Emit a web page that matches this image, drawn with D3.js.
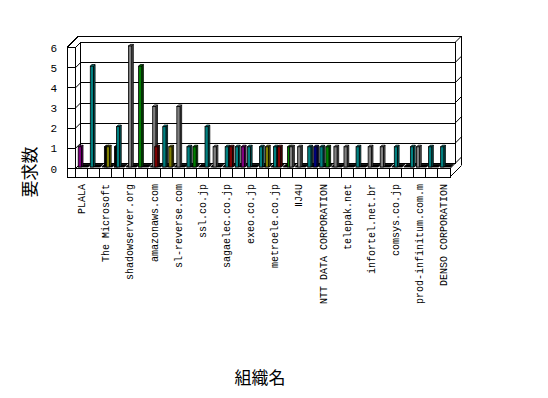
<!DOCTYPE html>
<html>
<head>
<meta charset="utf-8">
<script src="https://cdn.jsdelivr.net/npm/d3@7"></script>
<style>
  body { margin: 0; background: #fff; }
  text { font-family: "Liberation Mono", "DejaVu Sans Mono", monospace; }
</style>
</head>
<body>
<svg id="chart" width="548" height="398"></svg>
<script>
// organisations on the x axis (only every second one is labelled in the chart)
const orgLabels = ["PLALA", "The Microsoft", "shadowserver.org", "amazonaws.com",
  "sl-reverse.com", "ssl.co.jp", "sagaelec.co.jp", "exeo.co.jp", "metroele.co.jp",
  "ⅡJ4U", "NTT DATA CORPORATION", "telepak.net", "infortel.net.br", "comsys.co.jp",
  "prod-infinitum.com.m", "DENSO CORPORATION"];
const nOrgs = 31;
const yTicks = [0, 1, 2, 3, 4, 5, 6];
const seriesIds = [0, 1, 2, 3, 4, 5, 6, 7];
const palette = ["#000000", "#800000", "#008000", "#808000", "#000080", "#800080", "#008080", "#808080"];

// one entry per bar: organisation index, slot inside the cluster, series, request count
const barOrg    = [0, 1, 2, 2, 3, 3, 4, 5, 6, 6, 7, 7, 8, 9, 9, 10, 11, 12, 12, 13, 13, 14, 15, 15, 16, 16, 17, 17, 18, 19, 19, 20, 20, 21, 22, 23, 24, 25, 26, 27, 28, 29, 30];
const barSlot   = [0, 0, 1, 2, 0, 1, 1, 0, 1, 2, 0, 3, 1, 0, 3, 3, 1, 1, 3, 0, 3, 0, 0, 3, 1, 3, 2, 3, 1, 0, 3, 0, 3, 1, 0, 0, 0, 0, 1, 3, 0, 0, 0];
const barSeries = [5, 6, 0, 3, 0, 6, 7, 2, 7, 1, 6, 3, 7, 6, 2, 6, 7, 6, 1, 6, 5, 6, 6, 3, 6, 1, 2, 7, 7, 6, 4, 6, 2, 7, 7, 6, 7, 7, 6, 6, 7, 6, 6];
const barValue  = [1, 5, 1, 1, 1, 2, 6, 5, 3, 1, 2, 1, 3, 1, 1, 2, 1, 1, 1, 1, 1, 1, 1, 1, 1, 1, 1, 1, 1, 1, 1, 1, 1, 1, 1, 1, 1, 1, 1, 1, 1, 1, 1];

const svg = d3.select("#chart");
const D = 5;    // depth of the plot box
const T = 6.5;  // thickness of walls and floor (floor front face is a bit taller)

const x = d3.scaleBand().domain(d3.range(nOrgs)).range([75.5, 450]);
const slot = d3.scaleBand().domain([0, 1, 2, 3]).range([1.2, 9.2]);
const y = d3.scaleLinear().domain([0, 6]).range([168.5, 47.5]);
const color = d3.scaleOrdinal().domain(seriesIds).range(palette);

const xL = x.range()[0], xR = x.range()[1];
const y0 = y(0), yTop = y(6);
const g = svg.append("g").attr("shape-rendering", "crispEdges")
  .attr("stroke", "#000").attr("fill", "none").attr("stroke-width", 1);

// back wall + top of it
g.append("rect").attr("x", xL + D).attr("y", yTop - D).attr("width", xR - xL)
  .attr("height", y0 - yTop).attr("fill", "#fff");
g.append("line").attr("x1", 67 + D + T).attr("x2", xR + D + T)
  .attr("y1", yTop - D - T).attr("y2", yTop - D - T);
g.append("line").attr("x1", xR + D + T).attr("x2", xR + D + T)
  .attr("y1", yTop - D - T).attr("y2", y0 - D - T + 8);
g.append("line").attr("x1", 67).attr("x2", 67 + D + T)
  .attr("y1", yTop).attr("y2", yTop - D - T);

// gridlines: back wall, left wall and the right edge of the back wall
yTicks.forEach(v => {
  const yy = y(v);
  if (v > 0) {
    g.append("line").attr("x1", xL + D).attr("x2", xR + D).attr("y1", yy - D).attr("y2", yy - D);
  }
  g.append("line").attr("x1", 67).attr("x2", xL).attr("y1", yy).attr("y2", yy);
  g.append("line").attr("x1", xL).attr("x2", xL + D).attr("y1", yy).attr("y2", yy - D)
    .attr("shape-rendering", "auto");
  g.append("line").attr("x1", xR + D).attr("x2", xR + D + T).attr("y1", yy - D).attr("y2", yy - D - T)
    .attr("shape-rendering", "auto");
});

// left wall front edges
g.append("line").attr("x1", 67).attr("x2", 67).attr("y1", yTop).attr("y2", y0 + 8.5);
g.append("line").attr("x1", xL).attr("x2", xL).attr("y1", yTop).attr("y2", y0);
g.append("line").attr("x1", xR + D).attr("x2", xR + D).attr("y1", yTop - D).attr("y2", y0 - D);

// floor slab front face with category dividers
g.append("rect").attr("x", 67).attr("y", y0).attr("width", xR - 67).attr("height", 8.5).attr("fill", "#fff");
d3.range(nOrgs).forEach(i => {
  g.append("line").attr("x1", x(i)).attr("x2", x(i)).attr("y1", y0).attr("y2", y0 + 8.5);
});
g.append("line").attr("x1", xR).attr("x2", xR + D + T).attr("y1", y0 + 8.5).attr("y2", y0 + 8.5 - D - T)
  .attr("shape-rendering", "auto");
g.append("line").attr("x1", xR).attr("x2", xR + D).attr("y1", y0).attr("y2", y0 - D)
  .attr("shape-rendering", "auto");

// flat (zero) bars along the floor
const bars = svg.append("g").attr("stroke", "#000").attr("stroke-width", 0.8);
d3.range(nOrgs).forEach(i => {
  const a = x(i) + 0.8, b = x(i) + x.bandwidth() - 0.8, d1 = 1.5, d2 = 4;
  bars.append("polygon").attr("fill", "#000")
    .attr("points", [[a + d1, y0 - d1], [b + d1, y0 - d1], [b + d2, y0 - d2], [a + d2, y0 - d2]].join(" "));
});

// bars
const bw = 3.2, bd = 1.6, dz = 1.5;
barOrg.forEach((o, k) => {
  const c = color(barSeries[k]);
  const fx = x(o) + slot(barSlot[k]) + dz;
  const yb = y0 - dz, yt = y(barValue[k]) - dz;
  bars.append("polygon").attr("fill", d3.color(c).darker(0.8))
    .attr("points", [[fx + bw, yt], [fx + bw + bd, yt - bd], [fx + bw + bd, yb - bd], [fx + bw, yb]].join(" "));
  bars.append("polygon").attr("fill", d3.color(c).brighter(0.6))
    .attr("points", [[fx, yt], [fx + bw, yt], [fx + bw + bd, yt - bd], [fx + bd, yt - bd]].join(" "));
  bars.append("rect").attr("x", fx).attr("y", yt).attr("width", bw).attr("height", yb - yt).attr("fill", c);
});

// value axis labels
const yAxis = svg.append("g").attr("transform", "translate(60,0)")
  .call(d3.axisLeft(y).tickValues(yTicks).tickSize(0).tickFormat(d3.format("d")));
yAxis.select(".domain").remove();
yAxis.selectAll("text").attr("font-size", 11).attr("font-family", "Liberation Sans, Arial, sans-serif");

// category labels, every second organisation
const xAxis = svg.append("g").attr("transform", "translate(0,184)")
  .call(d3.axisBottom(x).tickValues(d3.range(0, nOrgs, 2)).tickSize(0).tickFormat(i => orgLabels[i / 2]));
xAxis.select(".domain").remove();
xAxis.selectAll("text").attr("font-size", 10)
  .attr("transform", "rotate(-90)").attr("text-anchor", "end")
  .attr("x", 0).attr("y", 0).attr("dx", 0).attr("dy", "0.35em");

// axis titles
svg.append("text").attr("transform", "translate(36,172) rotate(-90)")
  .attr("text-anchor", "middle").attr("font-size", 17)
  .style("font-family", "'Noto Sans CJK JP', sans-serif").text("要求数");
svg.append("text").attr("x", 260).attr("y", 384)
  .attr("text-anchor", "middle").attr("font-size", 17)
  .style("font-family", "'Noto Sans CJK JP', sans-serif").text("組織名");
</script>
</body>
</html>
